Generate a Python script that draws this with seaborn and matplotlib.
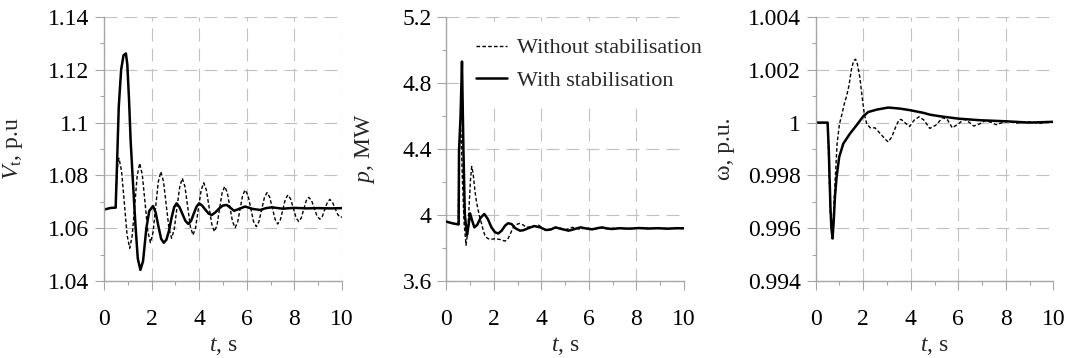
import matplotlib
matplotlib.use("Agg")
import matplotlib.pyplot as plt
import seaborn as sns

# ---- data (t in seconds) ----

# terminal voltage, without stabilisation (dashed)
vt_off_t = [0.0, 0.15, 0.3, 0.49, 0.52, 0.58, 0.63, 0.74, 0.855, 0.97,
            1.08, 1.185, 1.29, 1.395, 1.50, 1.61, 1.725, 1.84, 1.95, 2.06,
            2.17, 2.28, 2.39, 2.50, 2.615, 2.73, 2.84, 2.95, 3.065, 3.18,
            3.29, 3.40, 3.515, 3.63, 3.74, 3.85, 3.965, 4.08, 4.19, 4.30,
            4.415, 4.53, 4.64, 4.75, 4.855, 4.96, 5.07, 5.18, 5.29, 5.40,
            5.51, 5.615, 5.72, 5.825, 5.93, 6.05, 6.165, 6.28, 6.40, 6.51,
            6.625, 6.74, 6.85, 6.96, 7.075, 7.19, 7.30, 7.41, 7.515, 7.62,
            7.73, 7.84, 7.955, 8.07, 8.18, 8.285, 8.39, 8.495, 8.60, 8.72,
            8.835, 8.95, 9.07, 9.175, 9.28, 9.385, 9.49, 9.60, 9.71, 9.82,
            9.93, 10.0]
vt_off = [1.0670, 1.0674, 1.0677, 1.0677, 1.0750, 1.0850, 1.0865, 1.0815, 1.0695, 1.0574,
          1.0524, 1.0571, 1.0685, 1.0799, 1.0846, 1.0802, 1.0696, 1.0589, 1.0545, 1.0584,
          1.0680, 1.0775, 1.0814, 1.0777, 1.0688, 1.0599, 1.0562, 1.0595, 1.0676, 1.0756,
          1.0789, 1.0758, 1.0682, 1.0605, 1.0574, 1.0603, 1.0673, 1.0743, 1.0772, 1.0745,
          1.0680, 1.0614, 1.0587, 1.0612, 1.0673, 1.0733, 1.0758, 1.0735, 1.0680, 1.0625,
          1.0602, 1.0623, 1.0674, 1.0724, 1.0745, 1.0725, 1.0676, 1.0626, 1.0606, 1.0625,
          1.0671, 1.0716, 1.0735, 1.0718, 1.0676, 1.0633, 1.0616, 1.0632, 1.0671, 1.0710,
          1.0726, 1.0711, 1.0676, 1.0640, 1.0625, 1.0638, 1.0671, 1.0704, 1.0717, 1.0705,
          1.0676, 1.0646, 1.0634, 1.0645, 1.0672, 1.0698, 1.0709, 1.0698, 1.0675, 1.0652,
          1.0641, 1.0643]

# terminal voltage, with stabilisation (solid)
vt_on_t = [0.0, 0.15, 0.3, 0.49, 0.55, 0.62, 0.72, 0.82, 0.92, 0.98,
           1.05, 1.12, 1.2, 1.27, 1.33, 1.42, 1.53, 1.64, 1.78, 1.9,
           2.06, 2.17, 2.28, 2.4, 2.51, 2.62, 2.73, 2.84, 2.95, 3.05,
           3.17, 3.29, 3.42, 3.54, 3.66, 3.77, 3.89, 4.0, 4.13, 4.26,
           4.4, 4.53, 4.68, 4.84, 5.0, 5.16, 5.3, 5.47, 5.7, 5.93,
           6.25, 6.57, 6.8, 7.06, 7.5, 8.0, 8.5, 9.0, 9.5, 10.0]
vt_on = [1.0670, 1.0674, 1.0677, 1.0678, 1.0850, 1.1060, 1.1200, 1.1255, 1.1262, 1.1220,
         1.1090, 1.0930, 1.0800, 1.0690, 1.0600, 1.0485, 1.0442, 1.0475, 1.0600, 1.0665,
         1.0684, 1.0660, 1.0610, 1.0560, 1.0545, 1.0556, 1.0590, 1.0640, 1.0680, 1.0694,
         1.0680, 1.0655, 1.0628, 1.0616, 1.0628, 1.0655, 1.0682, 1.0694, 1.0685, 1.0670,
         1.0655, 1.0650, 1.0660, 1.0675, 1.0686, 1.0688, 1.0678, 1.0666, 1.0674, 1.0682,
         1.0673, 1.0669, 1.0676, 1.0679, 1.0674, 1.0677, 1.0675, 1.0676, 1.0675, 1.0676]

# active power, without stabilisation
p_off_t = [0.0, 0.25, 0.5, 0.53, 0.58, 0.62, 0.68, 0.75, 0.83, 0.9,
           0.97, 1.02, 1.07, 1.13, 1.2, 1.27, 1.34, 1.41, 1.48, 1.55,
           1.62, 1.72, 1.83, 2.04, 2.25, 2.46, 2.57, 2.67, 2.78, 2.88,
           3.09, 3.23, 3.37, 3.6, 3.88, 4.16, 4.4, 4.7, 5.0, 5.3,
           5.6, 5.9, 6.2, 6.5, 6.8, 7.1, 7.5, 8.0, 8.5, 9.0, 9.5, 10.0]
p_off = [3.960, 3.950, 3.943, 4.300, 4.550, 4.500, 4.200, 3.950, 3.817, 3.900,
         4.080, 4.220, 4.294, 4.250, 4.152, 4.080, 4.030, 3.985, 3.949, 3.910,
         3.878, 3.860, 3.852, 3.856, 3.852, 3.842, 3.850, 3.878, 3.915, 3.939,
         3.949, 3.940, 3.925, 3.930, 3.939, 3.909, 3.915, 3.925, 3.910, 3.925,
         3.915, 3.922, 3.914, 3.922, 3.916, 3.921, 3.917, 3.920, 3.918, 3.919, 3.918, 3.919]

# active power, with stabilisation
p_on_t = [0.0, 0.25, 0.5, 0.52, 0.535, 0.6, 0.66, 0.72, 0.78, 0.87,
          0.93, 1.0, 1.08, 1.18, 1.3, 1.45, 1.6, 1.75, 1.9, 2.05,
          2.19, 2.33, 2.47, 2.6, 2.75, 2.9, 3.1, 3.25, 3.45, 3.7,
          3.95, 4.2, 4.4, 4.59, 4.85, 5.15, 5.4, 5.64, 5.9, 6.13,
          6.35, 6.55, 6.75, 6.97, 7.3, 7.7, 8.1, 8.5, 8.9, 9.3, 9.7, 10.0]
p_on = [3.960, 3.950, 3.943, 3.943, 4.390, 4.600, 4.930, 4.400, 4.000, 3.878,
        3.930, 4.010, 3.970, 3.925, 3.940, 3.985, 4.006, 3.975, 3.925, 3.895,
        3.888, 3.905, 3.935, 3.950, 3.945, 3.920, 3.905, 3.908, 3.920, 3.933,
        3.925, 3.909, 3.912, 3.925, 3.915, 3.905, 3.915, 3.925, 3.918, 3.913,
        3.920, 3.925, 3.919, 3.915, 3.920, 3.917, 3.921, 3.918, 3.920, 3.917, 3.920, 3.919]

# rotor speed, without stabilisation
w_off_t = [0.0, 0.25, 0.5, 0.55, 0.62, 0.71, 0.8, 0.9, 1.0, 1.1,
           1.2, 1.3, 1.4, 1.5, 1.6, 1.68, 1.76, 1.86, 1.95, 2.05,
           2.15, 2.3, 2.5, 2.65, 2.8, 2.95, 3.05, 3.2, 3.35, 3.5,
           3.6, 3.75, 3.95, 4.15, 4.35, 4.55, 4.8, 5.05, 5.35, 5.55,
           5.75, 6.0, 6.25, 6.45, 6.65, 6.9, 7.15, 7.4, 7.6, 7.85,
           8.1, 8.4, 8.7, 9.0, 9.4, 9.7, 10.0]
w_off = [1.0, 1.0, 1.0, 0.9985, 0.9965, 0.9957, 0.9975, 0.9992, 0.99995, 1.0003,
         1.0007, 1.0010, 1.0014, 1.0020, 1.00235, 1.0024, 1.0022, 1.0017, 1.0010, 1.0003,
         0.99995, 0.9998, 0.9998, 0.99965, 0.9995, 0.99935, 0.99927, 0.99945, 0.9998, 1.0001,
         1.00012, 1.0, 0.99985, 1.0001, 1.00022, 1.0001, 0.99978, 0.9999, 1.00019, 1.0001,
         0.9998, 0.99995, 1.00013, 1.00002, 0.99987, 0.99995, 1.00008, 1.0, 0.99992, 1.0,
         1.00005, 0.99998, 1.0, 1.00003, 0.99997, 1.00001, 1.00002]

# rotor speed, with stabilisation
w_on_t = [0.0, 0.25, 0.5, 0.55, 0.62, 0.66, 0.71, 0.76, 0.81, 0.88,
          0.99, 1.16, 1.44, 1.72, 2.0, 2.21, 2.56, 3.05, 3.55, 3.97,
          4.53, 4.81, 5.23, 6.0, 6.91, 8.0, 9.0, 10.0]
w_on = [1.0, 1.0, 1.0, 0.9990, 0.9968, 0.9960, 0.99561, 0.9963, 0.99718, 0.99794,
        0.9987, 0.9992, 0.99958, 0.9999, 1.00024, 1.0004, 1.00049, 1.00057, 1.00053, 1.00047,
        1.00037, 1.0003, 1.00024, 1.00015, 1.00009, 1.00005, 1.0, 1.00003]

# axis ticks / labels
x_ticks = [0, 2, 4, 6, 8, 10]
x_ticklabels = ["0", "2", "4", "6", "8", "10"]
vt_ticks = [1.04, 1.06, 1.08, 1.10, 1.12, 1.14]
vt_ticklabels = ["1.04", "1.06", "1.08", "1.1", "1.12", "1.14"]
p_ticks = [3.6, 4.0, 4.4, 4.8, 5.2]
p_ticklabels = ["3.6", "4", "4.4", "4.8", "5.2"]
w_ticks = [0.994, 0.996, 0.998, 1.0, 1.002, 1.004]
w_ticklabels = ["0.994", "0.996", "0.998", "1", "1.002", "1.004"]

label_off = "Without stabilisation"
label_on = "With stabilisation"

# ---- style ----
sns.set_theme(style="white")
plt.rcParams["font.family"] = ["Liberation Serif", "DejaVu Serif"]
plt.rcParams["mathtext.fontset"] = "custom"
plt.rcParams["mathtext.rm"] = "Liberation Serif"
plt.rcParams["mathtext.it"] = "Liberation Serif:italic"

FS = 17
LEG_FS = 16
AX_GREY = "#a6a6a6"
GRID_GREY = "#c0c0c0"
DASH = (0, (2.6, 1.6))


def style_axis(ax, yticks, yticklabels, ystep, ylabel, ylab_x):
    ax.set_xlim(0, 10)
    ax.set_ylim(yticks[0], yticks[-1])
    ax.set_xticks(x_ticks)
    ax.set_xticklabels(x_ticklabels)
    ax.set_yticks(yticks)
    ax.set_yticklabels(yticklabels)
    ax.xaxis.set_minor_locator(plt.MultipleLocator(1))
    ax.yaxis.set_minor_locator(plt.MultipleLocator(ystep / 2))
    ax.set_axisbelow(True)
    ax.grid(True, which="major", color=GRID_GREY, linestyle=(0, (11.5, 6.5)), linewidth=0.8)
    for side in ["top", "right"]:
        ax.spines[side].set_visible(False)
    for side in ["left", "bottom"]:
        ax.spines[side].set_color(AX_GREY)
        ax.spines[side].set_linewidth(1.0)
    ax.tick_params(which="both", bottom=True, left=True, direction="out",
                   color=AX_GREY, width=0.8, labelsize=FS, labelcolor="black")
    ax.tick_params(which="major", length=6.5)
    ax.tick_params(which="minor", length=3)
    ax.tick_params(axis="x", which="major", pad=14)
    ax.tick_params(axis="y", which="major", pad=4)
    ax.set_xlabel(r"$t$, s", fontsize=FS)
    ax.xaxis.set_label_coords(0.5, -0.205)
    ax.set_ylabel(ylabel, fontsize=FS)
    ax.yaxis.set_label_coords(ylab_x, 0.5)


fig = plt.figure(figsize=(10.66, 3.58), dpi=100)
W, H = 1066.0, 358.0
bottom, height = 1 - 281 / H, 264 / H
ax1 = fig.add_axes([104 / W, bottom, 238 / W, height])
ax2 = fig.add_axes([446.3 / W, bottom, 237.7 / W, height])
ax3 = fig.add_axes([815.7 / W, bottom, 237.6 / W, height])

# voltage
sns.lineplot(x=vt_off_t, y=vt_off, ax=ax1, color="black", linewidth=1.0,
             linestyle=DASH, estimator=None, sort=False)
sns.lineplot(x=vt_on_t, y=vt_on, ax=ax1, color="black", linewidth=1.8,
             estimator=None, sort=False)
style_axis(ax1, vt_ticks, vt_ticklabels, 0.02, r"$V_{\mathrm{t}}$, p.u", -0.33)

# power
sns.lineplot(x=p_off_t, y=p_off, ax=ax2, color="black", linewidth=1.0,
             linestyle=DASH, estimator=None, sort=False, label=label_off, zorder=6)
sns.lineplot(x=p_on_t, y=p_on, ax=ax2, color="black", linewidth=1.8,
             estimator=None, sort=False, label=label_on, zorder=6)
style_axis(ax2, p_ticks, p_ticklabels, 0.4, r"$p$, MW", -0.29)
leg = ax2.legend(loc="upper left", bbox_to_anchor=(0.07, 0.972), borderaxespad=0,
                 frameon=True, fancybox=False, facecolor="white", edgecolor="none",
                 framealpha=1, fontsize=LEG_FS, borderpad=0.6, labelspacing=0.53,
                 handlelength=1.4, handletextpad=0.45)

# speed
sns.lineplot(x=w_off_t, y=w_off, ax=ax3, color="black", linewidth=1.0,
             linestyle=DASH, estimator=None, sort=False)
sns.lineplot(x=w_on_t, y=w_on, ax=ax3, color="black", linewidth=1.8,
             estimator=None, sort=False)
style_axis(ax3, w_ticks, w_ticklabels, 0.002, "ω, p.u.", -0.34)

fig.savefig("out.png", dpi=100)
